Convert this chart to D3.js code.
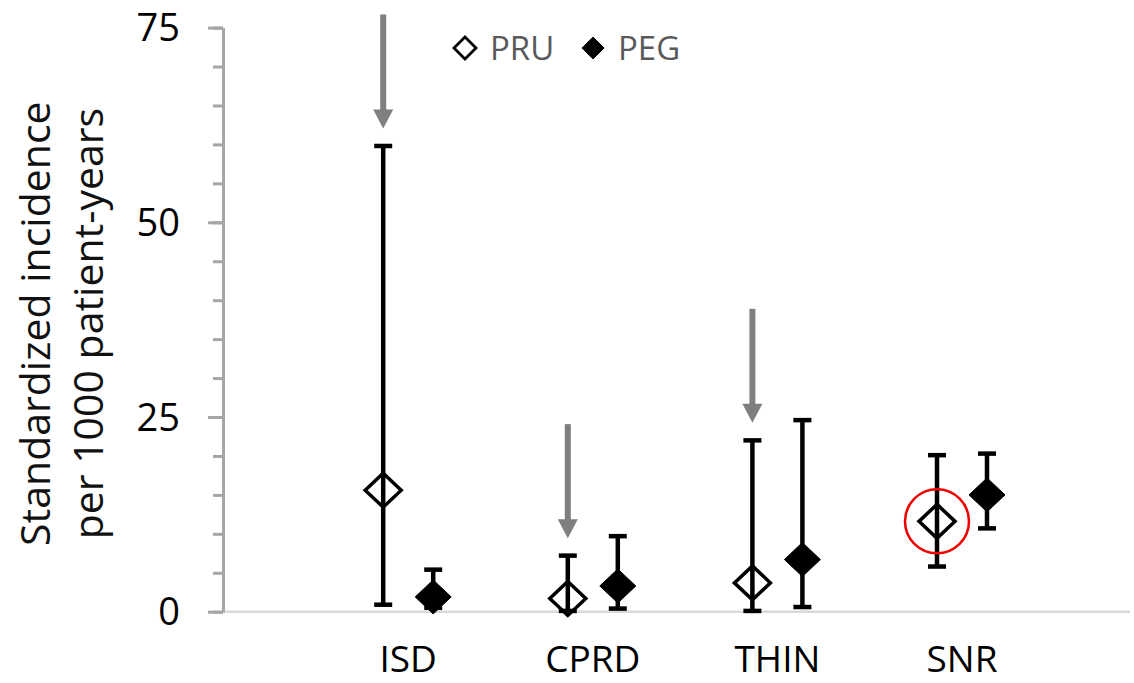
<!DOCTYPE html>
<html>
<head>
<meta charset="utf-8">
<script src="https://cdn.jsdelivr.net/npm/d3@7"></script>
<style>
  html, body { margin: 0; padding: 0; background: #fff; }
  svg { display: block; font-family: "Open Sans", "Noto Sans", sans-serif; }
</style>
</head>
<body>
<svg id="chart" width="1134" height="683"></svg>
<script>
// Standardized incidence (per 1000 patient-years) with confidence limits
const categories = ["ISD", "CPRD", "THIN", "SNR"];
const pruRate = [15.6, 1.7, 3.7, 11.6];
const pruLow  = [0.9, 0.1, 0.1, 5.8];
const pruHigh = [59.8, 7.2, 22.0, 20.1];
const pegRate = [1.9, 3.3, 6.7, 15.0];
const pegLow  = [0.5, 0.4, 0.6, 10.7];
const pegHigh = [5.4, 9.7, 24.6, 20.3];
const yTicks = [0, 25, 50, 75];
const yMinorTicks = d3.range(0, 76, 5);
const arrowed = ["ISD", "CPRD", "THIN"];   // PRU estimates flagged with an arrow
const circled = ["SNR"];                   // PRU estimate highlighted with a ring
const seriesNames = ["PRU", "PEG"];

const svg = d3.select("#chart");
const plot = { left: 223, right: 1130, top: 27.6, bottom: 611.7 };

const y = d3.scaleLinear().domain([0, 75]).range([plot.bottom, plot.top]);
const x = d3.scalePoint().domain(categories).range([408.2, 962]);
const dodge = d3.scalePoint().domain(seriesNames).range([-25, 25]);

const rows = categories.map((c, i) => ({
  cat: c,
  series: [
    { name: "PRU", rate: pruRate[i], low: pruLow[i], high: pruHigh[i] },
    { name: "PEG", rate: pegRate[i], low: pegLow[i], high: pegHigh[i] }
  ]
}));

// horizontal baseline
svg.append("line")
  .attr("x1", plot.left).attr("x2", plot.right)
  .attr("y1", y(0)).attr("y2", y(0))
  .attr("stroke", "#d9d9d9").attr("stroke-width", 2.5);

// y axis: major + minor ticks
const yAxisMinor = d3.axisLeft(y).tickValues(yMinorTicks).tickSize(10).tickFormat("");
const gMinor = svg.append("g").attr("transform", `translate(${plot.left},0)`).call(yAxisMinor);
gMinor.select(".domain").remove();
gMinor.selectAll("line").attr("stroke", "#a6a6a6").attr("stroke-width", 3);

const yAxis = d3.axisLeft(y).tickValues(yTicks).tickSize(15).tickSizeOuter(0).tickPadding(28);
const gy = svg.append("g").attr("transform", `translate(${plot.left},0)`).call(yAxis);
gy.select(".domain").attr("stroke", "#a6a6a6").attr("stroke-width", 3);
gy.selectAll(".tick line").attr("stroke", "#a6a6a6").attr("stroke-width", 3);
gy.selectAll(".tick text")
  .attr("font-size", 38).attr("dy", "0.345em").attr("fill", "#000")
  .attr("font-family", "'Open Sans', sans-serif");

// y axis title (two lines)
const title = svg.append("text")
  .attr("transform", `translate(50, ${(plot.top + plot.bottom) / 2 + 4}) rotate(-90)`)
  .attr("text-anchor", "middle")
  .attr("font-size", 41).attr("fill", "#111");
title.append("tspan").attr("x", 0).attr("y", 0).text("Standardized incidence");
title.append("tspan").attr("x", 0).attr("y", 53).text("per 1000 patient-years");

// category labels
svg.append("g").selectAll("text")
  .data(categories).join("text")
  .attr("x", d => x(d)).attr("y", 672)
  .attr("text-anchor", "middle")
  .attr("font-size", 37).attr("fill", "#000")
  .text(d => d);

const diamond = (w, h) => `M0,${-h / 2}L${w / 2},0L0,${h / 2}L${-w / 2},0Z`;

// error bars and markers
const groups = svg.append("g").selectAll("g")
  .data(rows).join("g")
  .attr("transform", d => `translate(${x(d.cat)},0)`);

const pts = groups.selectAll("g.pt")
  .data(d => d.series).join("g")
  .attr("class", "pt")
  .attr("transform", d => `translate(${dodge(d.name)},0)`);

pts.append("line")
  .attr("x1", 0).attr("x2", 0)
  .attr("y1", d => y(d.low)).attr("y2", d => y(d.high))
  .attr("stroke", "#000").attr("stroke-width", 4.5);
pts.selectAll("line.cap")
  .data(d => [d.low, d.high]).join("line")
  .attr("class", "cap")
  .attr("x1", -9).attr("x2", 9)
  .attr("y1", v => y(v)).attr("y2", v => y(v))
  .attr("stroke", "#000").attr("stroke-width", 4.5);
pts.append("path")
  .attr("transform", d => `translate(0,${y(d.rate)})`)
  .attr("d", diamond(36, 34))
  .attr("fill", d => d.name === "PEG" ? "#000" : "none")
  .attr("stroke", "#000")
  .attr("stroke-width", d => d.name === "PEG" ? 1 : 3.5);

// arrows above flagged PRU intervals
const arrowData = rows.filter(r => arrowed.includes(r.cat)).map(r => ({
  cx: x(r.cat) + dodge("PRU"),
  tip: y(r.series[0].high) - 17.5
}));
const arrows = svg.append("g").selectAll("g").data(arrowData).join("g");
arrows.append("line")
  .attr("x1", d => d.cx).attr("x2", d => d.cx)
  .attr("y1", d => d.tip - 114).attr("y2", d => d.tip - 16)
  .attr("stroke", "#7f7f7f").attr("stroke-width", 6);
arrows.append("path")
  .attr("d", d => `M${d.cx - 10},${d.tip - 19}L${d.cx + 10},${d.tip - 19}L${d.cx},${d.tip}Z`)
  .attr("fill", "#7f7f7f");

// highlight ring
svg.append("g").selectAll("circle")
  .data(rows.filter(r => circled.includes(r.cat)))
  .join("circle")
  .attr("cx", d => x(d.cat) + dodge("PRU"))
  .attr("cy", d => y(d.series[0].rate))
  .attr("r", 32)
  .attr("fill", "none").attr("stroke", "#f00000").attr("stroke-width", 2.5);

// legend
const legend = svg.append("g").attr("transform", "translate(465,48)");
const legendItems = legend.selectAll("g")
  .data(seriesNames).join("g")
  .attr("transform", (d, i) => `translate(${i * 128},0)`);
legendItems.append("path")
  .attr("d", diamond(22, 22))
  .attr("fill", d => d === "PEG" ? "#000" : "#fff")
  .attr("stroke", "#000")
  .attr("stroke-width", d => d === "PEG" ? 1 : 2.8);
legendItems.append("text")
  .attr("x", 25).attr("y", 12)
  .attr("font-size", 33).attr("fill", "#595959")
  .text(d => d);
</script>
</body>
</html>
